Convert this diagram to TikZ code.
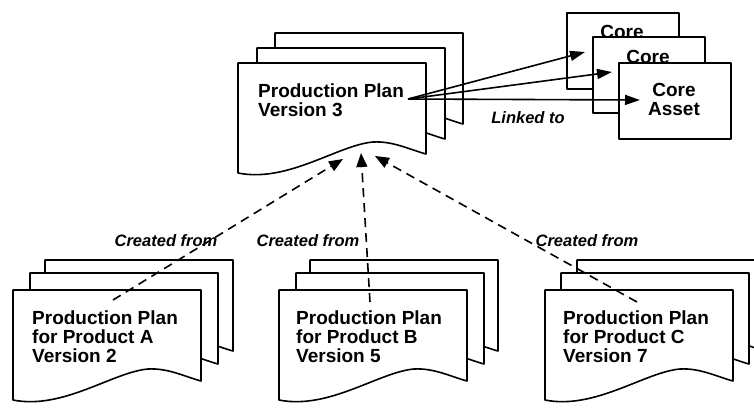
\documentclass[tikz,border=0pt]{standalone}
\usepackage{fontspec}
\setmainfont{Liberation Sans}
\usetikzlibrary{arrows.meta}

\newcommand\docfont{\fontsize{19}{19}\selectfont\bfseries}
\newcommand\labelfont{\fontsize{16.5}{18}\selectfont\bfseries\itshape}

% one page of a production plan: flat top, wavy bottom edge
\tikzset{
  docsheet/.pic={
    \path[outline] (0,0) -- (188,0) -- (188,91)
      .. controls (170,86) and (155,78) .. (135,79)
      .. controls (100,82) and (50,120) .. (0,110) -- cycle;
  }
}

\begin{document}
\begin{tikzpicture}[x=1pt,y=-1pt,
  outline/.style={draw=black,line width=1.6pt,line join=round,fill=white},
  doctext/.style={anchor=north west,inner sep=0pt,align=left,font=\docfont},
  corebox/.style={outline,rectangle,minimum width=112pt,minimum height=76pt,anchor=north west,inner sep=0pt},
  coretext/.style={anchor=north,inner sep=0pt,align=center,font=\docfont},
  link/.style={line width=1.6pt,-{Triangle[length=15pt,width=10pt]}},
  derive/.style={line width=1.6pt,dash pattern=on 9pt off 6pt,-{Triangle[length=14pt,width=11pt]}},
  edgelabel/.style={inner sep=0pt,font=\labelfont}
]
\fill[white] (0,0) rectangle (754,407);
\useasboundingbox (0,0) rectangle (754,407);

% shared production plan, version 3
\pic at (275,33) {docsheet};
\pic at (257,48) {docsheet};
\pic at (238,63) {docsheet};
\node[doctext] (plan3) at (258,84) {Production Plan\\Version 3};

% product specific plans
\pic at (45,260) {docsheet};
\pic at (30,273) {docsheet};
\pic at (13,290) {docsheet};
\node[doctext] (planA) at (32,311) {Production Plan\\for Product A\\Version 2};

\pic at (310,260) {docsheet};
\pic at (296,273) {docsheet};
\pic at (279,290) {docsheet};
\node[doctext] (planB) at (296,311) {Production Plan\\for Product B\\Version 5};

\pic at (577,260) {docsheet};
\pic at (561,273) {docsheet};
\pic at (545,290) {docsheet};
\node[doctext] (planC) at (563,311) {Production Plan\\for Product C\\Version 7};

% stack of core assets, each box covering the title of the one behind
\node[corebox] (coreboxA) at (566,12) {};
\node[coretext] (coreA) at (622,25) {Core};
\node[corebox] (coreboxB) at (592,36) {};
\node[coretext] (coreB) at (648,50) {Core};
\node[corebox] (coreboxC) at (618,62) {};
\node[coretext] (coreC) at (674,83) {Core\\Asset};

% links to the core assets
\coordinate (linkfrom) at (408,99);
\coordinate (linkA) at (585,52);
\coordinate (linkB) at (612,72);
\coordinate (linkC) at (640,100);
\draw[link] (linkfrom) -- (linkA);
\draw[link] (linkfrom) -- (linkB);
\draw[link] (linkfrom) -- (linkC);
\node[edgelabel] (linked) at (528,118) {Linked to};

% derivation of the product plans
\coordinate (fromA) at (113,300);
\coordinate (fromB) at (370,302);
\coordinate (fromC) at (637,302);
\coordinate (tipA) at (343,159);
\coordinate (tipB) at (361,153);
\coordinate (tipC) at (375,156);
\draw[derive] (fromA) -- (tipA);
\draw[derive] (fromB) -- (tipB);
\draw[derive] (fromC) -- (tipC);
\node[edgelabel] (createdA) at (166,241) {Created from};
\node[edgelabel] (createdB) at (308,241) {Created from};
\node[edgelabel] (createdC) at (587,241) {Created from};
\end{tikzpicture}
\end{document}
